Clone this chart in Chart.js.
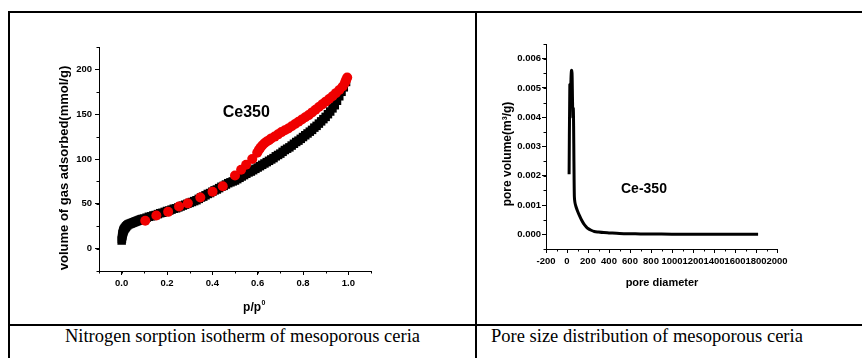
<!DOCTYPE html>
<html>
<head>
<meta charset="utf-8">
<script src="https://cdn.jsdelivr.net/npm/chart.js@4"></script>
<style>
body{margin:0;background:#fff;width:862px;height:358px;overflow:hidden;position:relative;font-family:"Liberation Sans",Arial,sans-serif;}
.line{position:absolute;background:#000;}
.cap{position:absolute;font-family:"Liberation Serif","Times New Roman",serif;font-size:18.5px;color:#000;white-space:nowrap;}
canvas{position:absolute;}
</style>
</head>
<body>
<div class="line" style="left:8px;top:11px;width:854px;height:2px"></div>
<div class="line" style="left:8px;top:11px;width:2px;height:347px"></div>
<div class="line" style="left:475px;top:11px;width:2px;height:347px"></div>
<div class="line" style="left:8px;top:324px;width:854px;height:2px"></div>
<canvas id="iso" width="475" height="324" style="left:0;top:0"></canvas>
<canvas id="psd" width="385" height="324" style="left:477px;top:0"></canvas>
<div class="cap" style="left:10px;width:465px;top:326px;text-align:center">Nitrogen sorption isotherm of mesoporous ceria</div>
<div class="cap" style="left:491px;top:326px">Pore size distribution of mesoporous ceria</div>
<script>
// isotherm, adsorption branch (black squares)
const adsX=[0.000,0.001,0.002,0.003,0.004,0.005,0.006,0.007,0.008,0.010,0.012,0.015,0.018,0.021,0.025,0.030,0.035,0.040,0.045,0.050,0.055,0.060,0.065,0.070,0.075,0.080,0.085,0.090,0.095,
    0.10,0.11,0.12,0.13,0.14,0.15,0.16,0.17,0.18,0.19,0.20,0.21,0.22,0.23,0.24,0.25,0.26,0.27,0.28,0.29,0.30,0.31,0.32,0.33,0.34,0.35,0.36,0.37,0.38,0.39,
    0.40,0.41,0.42,0.43,0.44,0.45,0.46,0.47,0.48,0.49,0.50,0.51,0.52,0.53,0.54,0.55,0.56,0.57,0.58,0.59,0.60,0.61,0.62,0.63,0.64,0.65,0.66,0.67,0.68,0.69,
    0.70,0.71,0.72,0.73,0.74,0.75,0.76,0.77,0.78,0.79,0.80,0.81,0.82,0.83,0.84,0.85,0.86,0.87,0.88,0.89,0.90,0.91,0.92,0.93,0.94,0.95,0.96,0.97,0.98,0.99];
const adsY=[9,11,13,14.5,16,17,18,19,20,21,22,23,24,25,26,27,27.5,28,28.5,29,29.5,30,30.5,31,31.5,32,32.5,33,33,
    33.5,34.5,35.5,36,37,37.5,38.5,39.5,40,41,42,42.5,43.5,44.5,45,46,47,48,49,50,51,52,53,54,55.5,57,58,59.5,61,62,
    63.5,65,66,67.5,69,70,71.5,73,74,75,76,77.5,79,80.5,82,83.5,85,86,87.5,89,90.5,92,93.5,95,96.5,98,99.5,101,103,104.5,
    106,108,110,111.5,113,115,117,119,120.5,122.5,124.5,126.5,128.5,130.5,132.5,135,137,139.5,142,144.5,147,150,153,156.5,160,165,170,175,180,186];
// desorption branch (red circles)
const desX=[0.104,0.153,0.205,0.253,0.292,0.347,0.401,0.446,0.500,0.527,0.549,0.576,0.598,0.605,0.612,0.620,0.630,0.640,0.650,0.660,0.675,0.690,0.705,0.720,0.735,0.750,0.765,0.780,0.795,0.810,0.825,0.840,0.855,0.870,0.885,0.900,0.915,0.930,0.945,0.960,0.975,0.985,0.990,0.995];
const desY=[31,37,41,47,50.5,57,63.5,69.5,81.5,88,93.5,100,107,110,112.5,115,117.5,119.5,121,123,125,127.5,130,132,134,136.5,139,141.5,144,146.5,149,152,155,158,161,164,167,170,173.5,177,181,185,188,191];
const isoXTicks=[0,0.2,0.4,0.6,0.8,1.0];
const isoYTicks=[0,50,100,150,200];

// pore size distribution
const poreD=[20,27,32,38,43,48,52,56,60,63,66,70,75,85,100,120,140,160,180,200,230,260,300,350,400,500,600,700,800,1000,1200,1400,1600,1820];
const poreV=[0.00205,0.0051,0.0044,0.0053,0.0056,0.0055,0.0047,0.0040,0.0043,0.0037,0.0025,0.0013,0.0011,0.00095,0.0008,0.00063,0.00048,0.00036,0.00027,0.0002,0.00014,0.0001,0.00008,0.00006,0.00005,0.00003,0.00002,0.000015,0.00001,0.000007,0.000005,0.000003,0.000002,0.000001];
const psdXTicks=[-200,0,200,400,600,800,1000,1200,1400,1600,1800,2000];
const psdYTicks=[0,0.001,0.002,0.003,0.004,0.005,0.006];

const FONT='"Liberation Sans",Arial,sans-serif';

const minorTicks={
    id:'minorTicks',
    afterDraw(chart,args,opts){
        const ctx=chart.ctx;
        ctx.save(); ctx.strokeStyle='#000'; ctx.lineWidth=1;
        ['x','y'].forEach(id=>{
            const s=chart.scales[id], step=opts[id];
            if(!step) return;
            const n=Math.round((s.max-s.min)/step);
            for(let i=0;i<=n;i++){
                const p=Math.round(s.getPixelForValue(s.min+i*step))+0.5;
                ctx.beginPath();
                if(id==='x'){ctx.moveTo(p,s.top);ctx.lineTo(p,s.top+2.5);}
                else{ctx.moveTo(s.right,p);ctx.lineTo(s.right-2.5,p);}
                ctx.stroke();
            }
        });
        ctx.restore();
    }
};

const notes={
    id:'notes',
    afterDraw(chart,args,opts){
        const ctx=chart.ctx;
        (opts.items||[]).forEach(n=>{
            let x=n.x, y=n.y;
            if(n.data){x=chart.scales.x.getPixelForValue(n.x);y=chart.scales.y.getPixelForValue(n.y);}
            ctx.save();
            ctx.translate(x,y);
            if(n.rotate) ctx.rotate(n.rotate);
            ctx.fillStyle='#000';
            ctx.font='bold '+n.size+'px '+FONT;
            ctx.textBaseline='middle';
            const w=ctx.measureText(n.text).width;
            let sw=0;
            if(n.sup){ctx.font='bold '+Math.round(n.size*0.6)+'px '+FONT;sw=ctx.measureText(n.sup).width;}
            const x0=-(w+sw)/2;
            ctx.font='bold '+n.size+'px '+FONT;
            ctx.textAlign='left';
            ctx.fillText(n.text,x0,0);
            if(n.sup){
                ctx.font='bold '+Math.round(n.size*0.6)+'px '+FONT;
                ctx.fillText(n.sup,x0+w+0.5,-n.size*0.45);
            }
            ctx.restore();
        });
    }
};

function axis(min,max,ticks,fmt,width,height,pad){
    return {
        type:'linear',min:min,max:max,
        grid:{display:true,drawOnChartArea:false,tickLength:4,color:'#000',tickColor:'#000'},
        border:{display:true,color:'#000',width:1},
        ticks:{color:'#000',font:{family:FONT,size:9.5,weight:'bold'},padding:pad,autoSkip:false,maxRotation:0,callback:v=>fmt(v)},
        afterBuildTicks:s=>{s.ticks=ticks.map(v=>({value:v}));},
        afterFit:s=>{if(width) s.width=width; if(height) s.height=height;}
    };
}

new Chart(document.getElementById('iso'),{
    type:'scatter',
    data:{datasets:[
        {label:'adsorption',data:adsX.map((x,i)=>({x:x,y:adsY[i]})),pointStyle:'rect',pointRadius:6,backgroundColor:'#000',borderColor:'#000',borderWidth:0,order:2},
        {label:'desorption',data:desX.map((x,i)=>({x:x,y:desY[i]})),pointStyle:'circle',pointRadius:5,backgroundColor:'#f00000',borderColor:'#f00000',borderWidth:0,order:1}
    ]},
    options:{
        responsive:false,animation:false,
        layout:{padding:{left:20,right:104,top:47,bottom:0}},
        plugins:{legend:{display:false},tooltip:{enabled:false},
            minorTicks:{x:0.1,y:25},
            notes:{items:[
                {text:'Ce350',data:true,x:0.55,y:152,size:16},
                {text:'volume of gas adsorbed(mmol/g)',x:64,y:168,rotate:-Math.PI/2,size:13},
                {text:'p/p',sup:'0',x:254,y:308,size:12}
            ]}
        },
        scales:{
            x:axis(-0.1,1.1,isoXTicks,v=>v.toFixed(1),0,53,3),
            y:axis(-25,225,isoYTicks,v=>String(v),79,0,3)
        }
    },
    plugins:[minorTicks,notes]
});

new Chart(document.getElementById('psd'),{
    type:'scatter',
    data:{datasets:[
        {label:'Ce-350',data:poreD.map((x,i)=>({x:x,y:poreV[i]})),showLine:true,pointRadius:0,borderColor:'#000',borderWidth:3,tension:0.3,fill:false}
    ]},
    options:{
        responsive:false,animation:false,
        layout:{padding:{left:20,right:85,top:44,bottom:0}},
        plugins:{legend:{display:false},tooltip:{enabled:false},
            minorTicks:{x:100,y:0.0005},
            notes:{items:[
                {text:'Ce-350',data:true,x:733,y:0.00153,size:14},
                {text:'pore volume(m³/g)',x:31,y:154,rotate:-Math.PI/2,size:12},
                {text:'pore diameter',x:185,y:283,size:11}
            ]}
        },
        scales:{
            x:axis(-200,2000,psdXTicks,v=>String(v),0,75,3),
            y:axis(-0.0005,0.0065,psdYTicks,v=>v.toFixed(3),49,0,1)
        }
    },
    plugins:[minorTicks,notes]
});
</script>
</body>
</html>
